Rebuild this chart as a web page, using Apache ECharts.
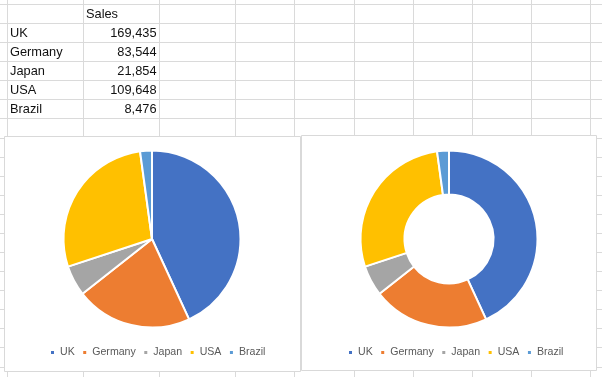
<!DOCTYPE html>
<html>
<head>
<meta charset="utf-8">
<script src="https://cdn.jsdelivr.net/npm/echarts@6/dist/echarts.min.js"></script>
<style>
  html, body { margin: 0; padding: 0; background: #fff; }
  #main { width: 602px; height: 377px; }
</style>
</head>
<body>
<div id="main"></div>
<script>
var countries = ['UK', 'Germany', 'Japan', 'USA', 'Brazil'];
var sales = [169435, 83544, 21854, 109648, 8476];
var colHeader = 'Sales';
var palette = ['#4472C4', '#ED7D31', '#A5A5A5', '#FFC000', '#5B9BD5'];

// sheet grid
var colLines = [7, 83, 159, 235, 294, 354, 413, 472, 531, 590];
var rowTop = 4;
var rowH = 19.08;

var dom = document.getElementById('main');
var chart = echarts.init(dom, null, { renderer: 'canvas' });

var pieData = countries.map(function (c, i) {
  return { name: c, value: sales[i] };
});

var elements = [];
// horizontal grid lines
for (var r = 0; rowTop + r * rowH < 377; r++) {
  var y = Math.round(rowTop + r * rowH) + 0.5;
  elements.push({ type: 'line', z: 0, shape: { x1: 0, y1: y, x2: 602, y2: y },
    style: { stroke: '#DADADA', lineWidth: 1 } });
}
colLines.forEach(function (x) {
  elements.push({ type: 'line', z: 0, shape: { x1: x + 0.5, y1: 0, x2: x + 0.5, y2: 377 },
    style: { stroke: '#DADADA', lineWidth: 1 } });
});

// table text
var cellFont = { fontFamily: 'Liberation Sans', fontSize: 12.8, fill: '#111' };
function rowMid(i) { return rowTop + rowH * i + rowH / 2 + 1; }
elements.push({ type: 'text', z: 0, style: Object.assign({ text: colHeader, x: 86, y: rowMid(0),
  textVerticalAlign: 'middle' }, cellFont) });
countries.forEach(function (c, i) {
  elements.push({ type: 'text', z: 0, style: Object.assign({ text: c, x: 10, y: rowMid(i + 1),
    textVerticalAlign: 'middle' }, cellFont) });
  elements.push({ type: 'text', z: 0, style: Object.assign({ text: sales[i].toLocaleString('en-US'),
    x: 156.5, y: rowMid(i + 1), textAlign: 'right', textVerticalAlign: 'middle' }, cellFont) });
});

// chart boxes
elements.push({ type: 'rect', z: 1, shape: { x: 4.5, y: 136.5, width: 296, height: 235 },
  style: { fill: '#fff', stroke: '#D9D9D9', lineWidth: 1 } });
elements.push({ type: 'rect', z: 1, shape: { x: 301.5, y: 135.5, width: 295, height: 235 },
  style: { fill: '#fff', stroke: '#D9D9D9', lineWidth: 1 } });

var legendBase = {
  orient: 'horizontal',
  icon: 'rect',
  itemWidth: 5,
  itemHeight: 5,
  itemGap: 6.5,
  padding: 0,
  top: 346,
  selectedMode: false,
  textStyle: { color: '#595959', fontSize: 10.6, fontFamily: 'Liberation Sans', lineHeight: 13 },
  data: countries
};

var option = {
  animation: false,
  color: palette,
  graphic: { elements: elements },
  legend: [
    Object.assign({ left: 49 }, legendBase),
    Object.assign({ left: 347 }, legendBase)
  ],
  series: [
    {
      name: 'Pie',
      type: 'pie',
      z: 5,
      center: [152, 239],
      radius: [0, 88.5],
      startAngle: 90,
      clockwise: true,
      silent: true,
      label: { show: false },
      labelLine: { show: false },
      itemStyle: { borderColor: '#fff', borderWidth: 2 },
      data: pieData
    },
    {
      name: 'Doughnut',
      type: 'pie',
      z: 5,
      center: [449, 239],
      radius: [44.5, 88.5],
      startAngle: 90,
      clockwise: true,
      silent: true,
      label: { show: false },
      labelLine: { show: false },
      itemStyle: { borderColor: '#fff', borderWidth: 2 },
      data: pieData
    }
  ]
};

chart.setOption(option);
window.addEventListener('resize', chart.resize);
</script>
</body>
</html>
